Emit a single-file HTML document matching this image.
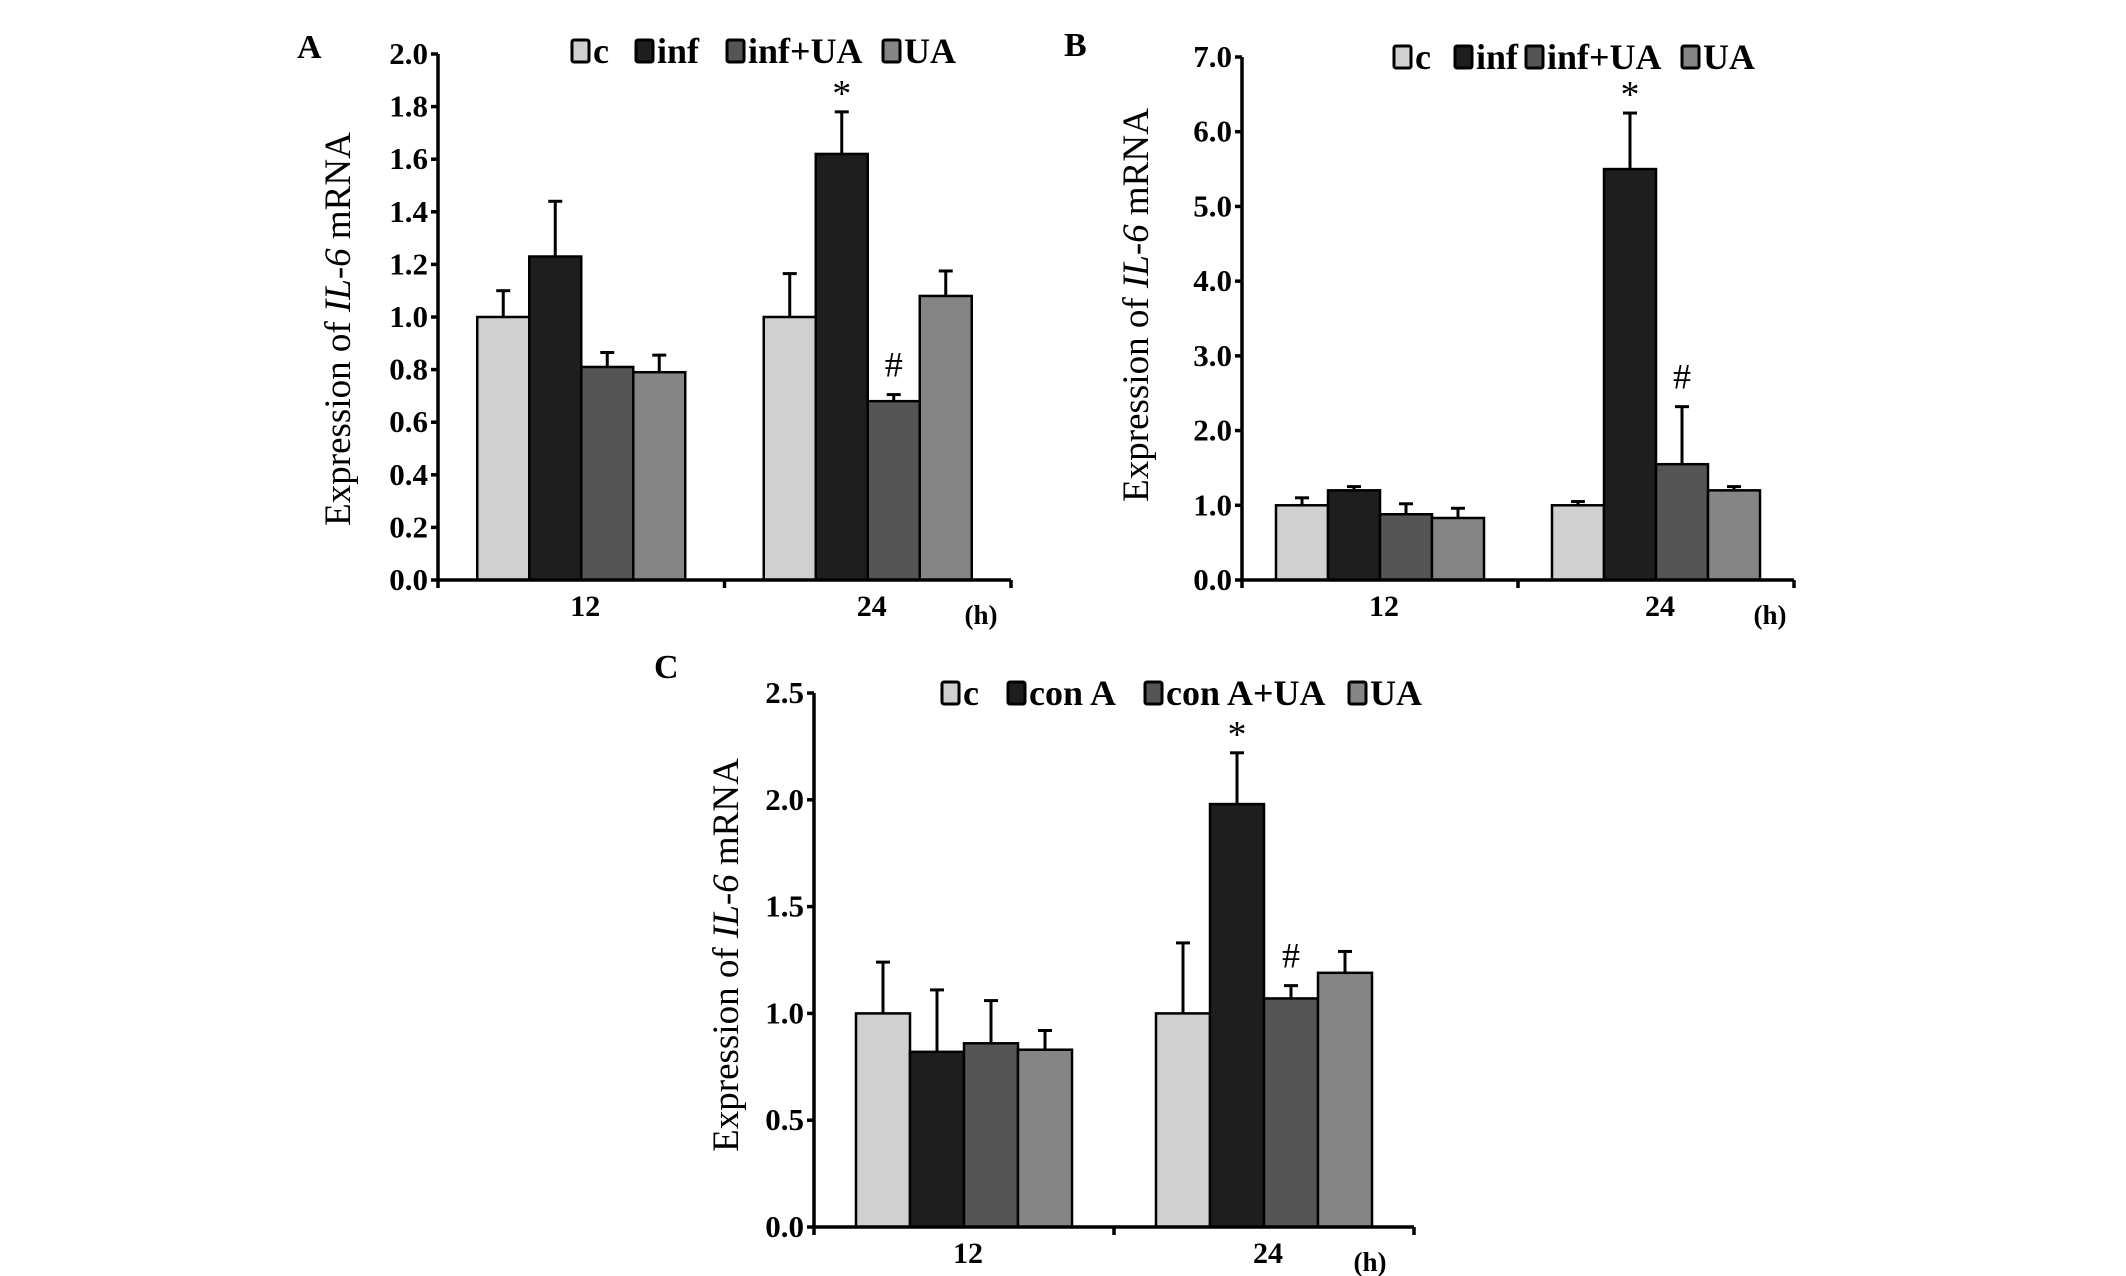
<!DOCTYPE html>
<html><head><meta charset="utf-8"><style>
html,body{margin:0;padding:0;background:#fff;}
svg{display:block;font-family:"Liberation Serif","DejaVu Serif",serif;}
</style></head><body>
<svg id="fig" width="2126" height="1276" viewBox="0 0 2126 1276" xmlns="http://www.w3.org/2000/svg"></svg>
<script>
const categories = ["12", "24"];
const colors = ["#d0d0d0", "#1e1e1e", "#555555", "#858585"];
// Panel A
const seriesA = ["c", "inf", "inf+UA", "UA"];
const valuesA = [[1.0, 1.23, 0.81, 0.79], [1.0, 1.62, 0.68, 1.08]];
const errA = [[0.10, 0.21, 0.055, 0.065], [0.165, 0.16, 0.025, 0.095]];
const ticksA = ["0.0","0.2","0.4","0.6","0.8","1.0","1.2","1.4","1.6","1.8","2.0"];
// Panel B
const seriesB = ["c", "inf", "inf+UA", "UA"];
const valuesB = [[1.0, 1.2, 0.88, 0.83], [1.0, 5.5, 1.55, 1.2]];
const errB = [[0.1, 0.05, 0.14, 0.13], [0.05, 0.75, 0.77, 0.05]];
const ticksB = ["0.0","1.0","2.0","3.0","4.0","5.0","6.0","7.0"];
// Panel C
const seriesC = ["c", "con A", "con A+UA", "UA"];
const valuesC = [[1.0, 0.82, 0.86, 0.83], [1.0, 1.98, 1.07, 1.19]];
const errC = [[0.24, 0.29, 0.2, 0.09], [0.33, 0.24, 0.06, 0.1]];
const ticksC = ["0.0","0.5","1.0","1.5","2.0","2.5"];

const NS = "http://www.w3.org/2000/svg";
const svg = document.getElementById("fig");
function mk(tag, attrs, parent, text) {
  const e = document.createElementNS(NS, tag);
  for (const k in attrs) e.setAttribute(k, attrs[k]);
  if (text !== undefined) e.textContent = text;
  (parent || svg).appendChild(e);
  return e;
}

function panel(cfg) {
  const g = mk("g", {});
  
  
  const x0 = cfg.x0, x1 = cfg.x1, yT = cfg.yTop, yB = cfg.yBot;
  const ymax = parseFloat(cfg.ticks[cfg.ticks.length - 1]);
  const yS = v => yB - (v / ymax) * (yB - yT);
  const catW = (x1 - x0) / cfg.categories.length;
  const barW = cfg.barW;
  cfg.values.forEach((grp, ci) => {
    const cx = x0 + catW * (ci + 0.5);
    const start = cx - barW * grp.length / 2;
    grp.forEach((v, si) => {
      const bx = start + si * barW;
      const top = yS(v + cfg.err[ci][si]);
      const el = mk("line", {x1: bx + barW / 2, x2: bx + barW / 2, y1: yS(v), y2: top, stroke: "#000", "stroke-width": 3}, g);
      
      
      const cap = mk("line", {x1: bx + barW / 2 - 7, x2: bx + barW / 2 + 7, y1: top, y2: top, stroke: "#000", "stroke-width": 3}, g);
      
      
      const r = mk("rect", {x: bx, y: yS(v), width: barW, height: yB - yS(v), fill: cfg.colors[si], stroke: "#000", "stroke-width": 2.5}, g);
      
      
    });
    const lbl = mk("text", {x: cx + 4, y: yB + 36, "font-size": 30, "font-weight": "bold", "text-anchor": "middle"}, g, cfg.categories[ci]);
    
    
    if (ci === 1) {
      const vi = cfg.values[1][1] + cfg.err[1][1];
      const star = mk("text", {x: start + barW * 1.5, y: yS(vi) - 6, "font-size": 38, "text-anchor": "middle"}, g, "*");
      
      
      const vh = cfg.values[1][2] + cfg.err[1][2];
      const hash = mk("text", {x: start + barW * 2.5, y: yS(vh) - 18, "font-size": 36, "text-anchor": "middle"}, g, "#");
      
      
    }
  });
  const ya = mk("line", {x1: x0, x2: x0, y1: yT, y2: yB + 1.5, stroke: "#000", "stroke-width": 3.5}, g);
  
  
  const xa = mk("line", {x1: x0 - 1.5, x2: x1, y1: yB, y2: yB, stroke: "#000", "stroke-width": 3.5}, g);
  
  
  for (let i = 0; i <= cfg.categories.length; i++) {
    const tx = x0 + catW * i;
    mk("line", {x1: tx, x2: tx, y1: yB, y2: yB + 8, stroke: "#000", "stroke-width": 3.5}, g);
  }
  cfg.ticks.forEach(t => {
    const y = yS(parseFloat(t));
    mk("line", {x1: x0 - 7, x2: x0, y1: y, y2: y, stroke: "#000", "stroke-width": 3.5}, g);
    const tl = mk("text", {x: x0 - 10, y: y + 10, "font-size": 31, "font-weight": "bold", "text-anchor": "end"}, g, t);
    
    
  });
  const hl = mk("text", {x: cfg.hX, y: yB + 44, "font-size": 27, "font-weight": "bold", "text-anchor": "middle"}, g, "(h)");
  
  
  const tt = mk("text", {transform: "translate(" + cfg.titleX + "," + cfg.titleY + ") rotate(-90)", "font-size": 37, "text-anchor": "middle"}, g);
  
  
  mk("tspan", {}, tt, "Expression of ");
  mk("tspan", {"font-style": "italic"}, tt, "IL-6");
  mk("tspan", {}, tt, " mRNA");
  const pl = mk("text", {x: cfg.letterX, y: cfg.letterY, "font-size": 34, "font-weight": "bold"}, g, cfg.letter);
  
  
  cfg.series.forEach((s, i) => {
    const lx = cfg.legX[i];
    const sq = mk("rect", {x: lx, y: cfg.legY - 23, width: 17, height: 22, rx: 2, fill: cfg.colors[i], stroke: "#000", "stroke-width": 3}, g);
    
    
    const lt = mk("text", {x: lx + 21, y: cfg.legY, "font-size": 36, "font-weight": "bold"}, g, s);
    
    
  });
}

panel({id: "panel-a", letter: "A", letterX: 297, letterY: 58, x0: 438, x1: 1011, yTop: 54, yBot: 580, barW: 52,
  categories, series: seriesA, values: valuesA, err: errA, ticks: ticksA, colors,
  hX: 981, titleX: 350, titleY: 329, legX: [572, 636, 727, 883], legY: 63});
panel({id: "panel-b", letter: "B", letterX: 1064, letterY: 56, x0: 1242, x1: 1794, yTop: 57, yBot: 580, barW: 52,
  categories, series: seriesB, values: valuesB, err: errB, ticks: ticksB, colors,
  hX: 1770, titleX: 1148, titleY: 305, legX: [1394, 1455, 1526, 1682], legY: 69});
panel({id: "panel-c", letter: "C", letterX: 654, letterY: 678, x0: 814, x1: 1414, yTop: 693, yBot: 1227, barW: 54,
  categories, series: seriesC, values: valuesC, err: errC, ticks: ticksC, colors,
  hX: 1370, titleX: 738, titleY: 955, legX: [942, 1008, 1145, 1349], legY: 705});
</script>
</body></html>
